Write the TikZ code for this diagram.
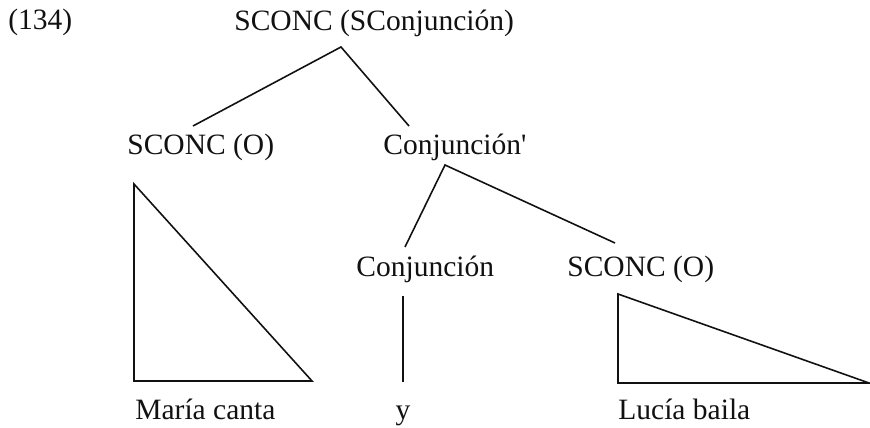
\documentclass[tikz,border=0pt]{standalone}
\usepackage{fontspec}
\newfontfamily\treefont{Liberation Serif}
\usepackage{xcolor}
\usepackage{tikz}
\usetikzlibrary{positioning}
\definecolor{inkBlack}{HTML}{111111}

\begin{document}
\begin{tikzpicture}[
  x=0.02cm, y=-0.02cm,
  font=\treefont\fontsize{16.8}{20}\selectfont,
  lbl/.style={inner sep=0pt, text=inkBlack, anchor=base west},
  branch/.style={draw=inkBlack, line width=0.9pt},
  tri/.style={draw=inkBlack, line width=0.9pt, line join=miter}
]
\useasboundingbox (0,0) rectangle (870,428);

% ---------- LABELS ----------
\node[lbl] (ex) at (8,30) {(134)};
\node[lbl] (root) at (234,31) {SCONC (SConjunción)};
\node[lbl] (sconcA) at (127,155) {SCONC (O)};
\node[lbl] (conjbar) at (383,155) {Conjunción'};
\node[lbl] (conj) at (356,277) {Conjunción};
\node[lbl] (sconcB) at (567,277) {SCONC (O)};
\node[lbl] (maria) at (135,420) {María canta};
\node[lbl, anchor=base] (yy) at (403,420) {y};
\node[lbl] (lucia) at (618,420) {Lucía baila};

% ---------- BRANCH POINTS ----------
\coordinate (rootB) at (341,47);
\coordinate (sconcAT) at (193,126);
\coordinate (conjbarT) at (409,126);
\coordinate (conjbarB) at (445,165);
\coordinate (conjT) at (405,247);
\coordinate (sconcBT) at (615,243);
\coordinate (conjB) at (403,296);
\coordinate (yyT) at (403,382);

\draw[branch] (sconcAT) -- (rootB) -- (conjbarT);
\draw[branch] (conjT) -- (conjbarB) -- (sconcBT);
\draw[branch] (conjB) -- (yyT);

% ---------- TRIANGLES ----------
\draw[tri] (134,184) -- (134,381) -- (312,381) -- cycle;
\draw[tri] (618,294) -- (618,383) -- (869,383) -- cycle;

\end{tikzpicture}
\end{document}
